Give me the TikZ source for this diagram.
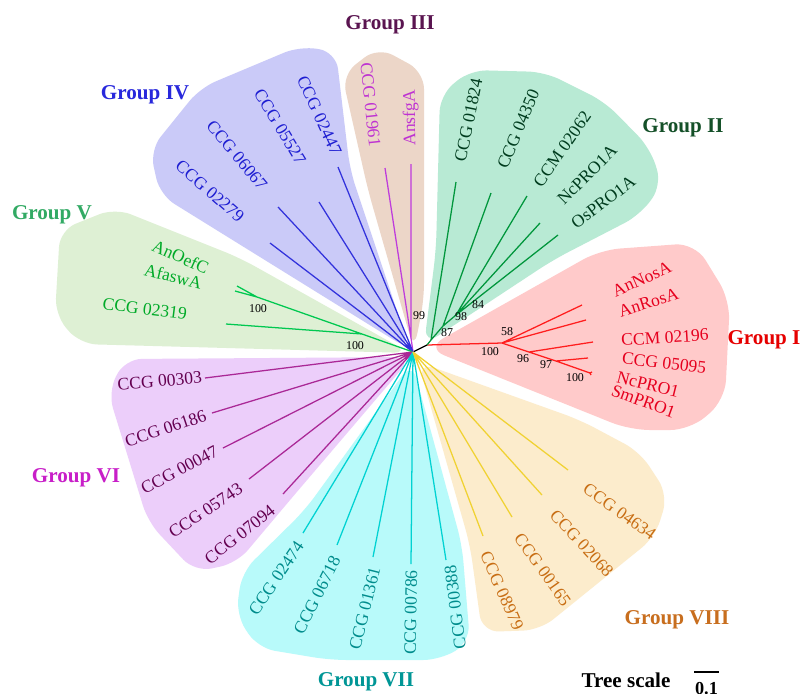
\documentclass[tikz,border=0pt]{standalone}
\usepackage{fontspec}
\setmainfont{Liberation Serif}
\usetikzlibrary{positioning}

% clade fills
\definecolor{fillI}{RGB}{255,202,202}
\definecolor{fillII}{RGB}{184,234,212}
\definecolor{fillIII}{RGB}{236,214,200}
\definecolor{fillIV}{RGB}{202,202,248}
\definecolor{fillV}{RGB}{222,240,212}
\definecolor{fillVI}{RGB}{236,206,250}
\definecolor{fillVII}{RGB}{184,250,250}
\definecolor{fillVIII}{RGB}{252,236,204}
% branches
\definecolor{lineI}{RGB}{255,30,30}
\definecolor{lineII}{RGB}{0,150,60}
\definecolor{lineIII}{RGB}{190,60,220}
\definecolor{lineIV}{RGB}{50,50,220}
\definecolor{lineV}{RGB}{0,200,80}
\definecolor{lineVI}{RGB}{170,40,150}
\definecolor{lineVII}{RGB}{0,210,210}
\definecolor{lineVIII}{RGB}{240,210,50}
% taxon names
\definecolor{textI}{RGB}{230,0,30}
\definecolor{textII}{RGB}{0,60,30}
\definecolor{textIII}{RGB}{190,50,210}
\definecolor{textIV}{RGB}{30,30,210}
\definecolor{textV}{RGB}{0,170,40}
\definecolor{textVI}{RGB}{100,0,80}
\definecolor{textVII}{RGB}{0,140,140}
\definecolor{textVIII}{RGB}{200,110,20}
% group headings
\definecolor{headI}{RGB}{230,0,0}
\definecolor{headII}{RGB}{20,80,40}
\definecolor{headIII}{RGB}{90,20,80}
\definecolor{headIV}{RGB}{40,40,220}
\definecolor{headV}{RGB}{50,170,100}
\definecolor{headVI}{RGB}{200,30,200}
\definecolor{headVII}{RGB}{0,150,150}
\definecolor{headVIII}{RGB}{200,110,30}

\begin{document}
\begin{tikzpicture}[
    x=0.025cm, y=-0.025cm,
    blob/.style={rounded corners=12pt},
    branch/.style={line width=0.9pt},
    taxon/.style={inner sep=0pt, font=\fontsize{12.5}{14}\selectfont},
    boot/.style={inner sep=0pt, font=\fontsize{8.5}{10}\selectfont},
    grouplabel/.style={inner sep=0pt, font=\fontsize{15}{18}\selectfont\bfseries}
]
    \fill[white] (0,0) rectangle (802,693);
    \useasboundingbox (0,0) rectangle (802,693);

    % clade backgrounds
    \fill[fillI, rounded corners=14pt] (426,348) -- (600,250) -- (695,243) -- (730,300) -- (725,400) -- (690,430) -- (630,430) -- cycle;
    \fill[fillII, blob] (424,345) -- (436,250) -- (440,95) -- (470,70) -- (545,72) -- (605,102) -- (650,148) -- (662,185) -- (640,215) -- (553,260) -- cycle;
    \fill[fillIII, blob] (414,350) -- (368,190) -- (342,75) -- (378,47) -- (424,72) -- (424,300) -- cycle;
    \fill[fillIV, blob] (410,350) -- (160,195) -- (150,150) -- (200,88) -- (300,46) -- (336,52) -- (350,170) -- cycle;
    \fill[fillV, blob] (410,353) -- (240,258) -- (115,208) -- (60,230) -- (55,315) -- (80,344) -- cycle;
    \fill[fillVI, blob] (412,357) -- (125,359) -- (108,392) -- (148,522) -- (195,572) -- (237,563) -- (290,500) -- cycle;
    \fill[fillVII, blob] (412,362) -- (305,510) -- (242,572) -- (236,615) -- (258,648) -- (330,660) -- (440,660) -- (470,642) -- (462,545) -- cycle;
    \fill[fillVIII, blob] (418,362) -- (470,545) -- (482,632) -- (540,630) -- (655,537) -- (668,495) -- (640,452) -- (580,420) -- cycle;

    % inner nodes
    \coordinate (root) at (413,352);
    \coordinate (base) at (427,345);
    \coordinate (r1) at (502,343);
    \coordinate (r2) at (529,352);
    \coordinate (r3) at (556,361);
    \coordinate (r4) at (590,373);
    \coordinate (g1) at (431,340);
    \coordinate (g2) at (443,326);
    \coordinate (g3) at (456,315);
    \coordinate (m1) at (411,338);
    \coordinate (v1) at (362,334);
    \coordinate (v2) at (257,297);

    % leaves
    \coordinate (nosA) at (582,305);
    \coordinate (rosA) at (586,320);
    \coordinate (m02196) at (593,342);
    \coordinate (c05095) at (588,358);
    \coordinate (ncPRO1) at (592,372);
    \coordinate (smPRO1) at (591,375);
    \coordinate (c01824) at (456,182);
    \coordinate (c04350) at (491,193);
    \coordinate (m02062) at (527,196);
    \coordinate (ncPRO1A) at (540,223);
    \coordinate (osPRO1A) at (558,235);
    \coordinate (c01961) at (385,168);
    \coordinate (nsfgA) at (411,164);
    \coordinate (c02447) at (338,167);
    \coordinate (c05527) at (319,202);
    \coordinate (c06067) at (278,207);
    \coordinate (c02279) at (270,243);
    \coordinate (oefC) at (237,286);
    \coordinate (faswA) at (235,291);
    \coordinate (c02319) at (226,324);
    \coordinate (c00303) at (205,378);
    \coordinate (c06186) at (212,413);
    \coordinate (c00047) at (223,448);
    \coordinate (c05743) at (249,479);
    \coordinate (c07094) at (283,494);
    \coordinate (c02474) at (303,533);
    \coordinate (c06718) at (337,545);
    \coordinate (c01361) at (373,557);
    \coordinate (c00786) at (411,564);
    \coordinate (c00388) at (446,560);
    \coordinate (c04634) at (568,470);
    \coordinate (c02068) at (542,495);
    \coordinate (c00165) at (512,517);
    \coordinate (c08979) at (483,536);

    % branches
    \draw[branch, black] (root) -- (base);
    \draw[branch, lineI] (base) -- (r1) (r1) -- (nosA) (r1) -- (rosA) (r1) -- (r2) (r2) -- (m02196)
        (r2) -- (r3) (r3) -- (c05095) (r3) -- (r4) (r4) -- (ncPRO1) (r4) -- (smPRO1);
    \draw[branch, lineII] (base) -- (g1) (g1) -- (c01824) (g1) -- (g2) (g2) -- (c04350) (g2) -- (g3)
        (g3) -- (m02062) (g3) -- (ncPRO1A) (g3) -- (osPRO1A);
    \draw[branch, lineIII] (root) -- (m1) (m1) -- (c01961) (m1) -- (nsfgA);
    \draw[branch, lineIV] (root) -- (c02447) (root) -- (c05527) (root) -- (c06067) (root) -- (c02279);
    \draw[branch, lineV] (root) -- (v1) (v1) -- (c02319) (v1) -- (v2) (v2) -- (oefC) (v2) -- (faswA);
    \draw[branch, lineVI] (root) -- (c00303) (root) -- (c06186) (root) -- (c00047) (root) -- (c05743) (root) -- (c07094);
    \draw[branch, lineVII] (root) -- (c02474) (root) -- (c06718) (root) -- (c01361) (root) -- (c00786) (root) -- (c00388);
    \draw[branch, lineVIII] (root) -- (c04634) (root) -- (c02068) (root) -- (c00165) (root) -- (c08979);

    % Group I
    \node[taxon, textI, anchor=west, rotate=24] (t-nosA) at (613,292) {AnNosA};
    \node[taxon, textI, anchor=west, rotate=17.5] (t-rosA) at (619,312) {AnRosA};
    \node[taxon, textI, anchor=west, rotate=3.5] (t-02196) at (621,340) {CCM 02196};
    \node[taxon, textI, anchor=west, rotate=-7] (t-05095) at (622,358) {CCG 05095};
    \node[taxon, textI, anchor=west, rotate=-14] (t-ncPRO1) at (617,377) {NcPRO1};
    \node[taxon, textI, anchor=west, rotate=-20] (t-smPRO1) at (612,390) {SmPRO1};
    % Group II
    \node[taxon, textII, anchor=west, rotate=78.5] (t-01824) at (460,162) {CCG 01824};
    \node[taxon, textII, anchor=west, rotate=67.5] (t-04350) at (502,168) {CCG 04350};
    \node[taxon, textII, anchor=west, rotate=55] (t-02062) at (537,185) {CCM 02062};
    \node[taxon, textII, anchor=west, rotate=45] (t-ncPRO1A) at (560,202) {NcPRO1A};
    \node[taxon, textII, anchor=west, rotate=37] (t-osPRO1A) at (573,225) {OsPRO1A};
    % Group III
    \node[taxon, textIII, anchor=east, rotate=-84] (t-01961) at (375,147) {CCG 01961};
    \node[taxon, textIII, anchor=west, rotate=90.5] (t-nsfgA) at (411,146) {AnsfgA};
    % Group IV
    \node[taxon, textIV, anchor=east, rotate=-65.5] (t-02447) at (337,154) {CCG 02447};
    \node[taxon, textIV, anchor=east, rotate=-59] (t-05527) at (302,163) {CCG 05527};
    \node[taxon, textIV, anchor=east, rotate=-50.5] (t-06067) at (264,188) {CCG 06067};
    \node[taxon, textIV, anchor=east, rotate=-41] (t-02279) at (242,219) {CCG 02279};
    % Group V
    \node[taxon, textV, anchor=east, rotate=-24] (t-oefC) at (208,269) {AnOefC};
    \node[taxon, textV, anchor=east, rotate=-13] (t-faswA) at (202,283) {AfaswA};
    \node[taxon, textV, anchor=east, rotate=-7] (t-02319) at (187,314) {CCG 02319};
    % Group VI
    \node[taxon, textVI, anchor=east, rotate=5.5] (t-00303) at (202,377) {CCG 00303};
    \node[taxon, textVI, anchor=east, rotate=18.5] (t-06186) at (206,415) {CCG 06186};
    \node[taxon, textVI, anchor=east, rotate=28] (t-00047) at (217,450) {CCG 00047};
    \node[taxon, textVI, anchor=east, rotate=33.5] (t-05743) at (241,487) {CCG 05743};
    \node[taxon, textVI, anchor=east, rotate=38.5] (t-07094) at (273,508) {CCG 07094};
    % Group VII
    \node[taxon, textVII, anchor=east, rotate=56] (t-02474) at (300,543) {CCG 02474};
    \node[taxon, textVII, anchor=east, rotate=63.5] (t-06718) at (336,557) {CCG 06718};
    \node[taxon, textVII, anchor=east, rotate=76] (t-01361) at (375,567) {CCG 01361};
    \node[taxon, textVII, anchor=east, rotate=89] (t-00786) at (411.5,570) {CCG 00786};
    \node[taxon, textVII, anchor=east, rotate=97] (t-00388) at (450,565) {CCG 00388};
    % Group VIII
    \node[taxon, textVIII, anchor=west, rotate=-35.5] (t-04634) at (585,487) {CCG 04634};
    \node[taxon, textVIII, anchor=west, rotate=-47.5] (t-02068) at (553,512) {CCG 02068};
    \node[taxon, textVIII, anchor=west, rotate=-54.5] (t-00165) at (518,535) {CCG 00165};
    \node[taxon, textVIII, anchor=west, rotate=-66.5] (t-08979) at (485,552) {CCG 08979};

    % bootstrap values
    \node[boot] (b58) at (507,332) {58};
    \node[boot] (b100a) at (490,352) {100};
    \node[boot] (b96) at (523,359) {96};
    \node[boot] (b97) at (546,365) {97};
    \node[boot] (b100b) at (575,378) {100};
    \node[boot] (b87) at (447,333) {87};
    \node[boot] (b98) at (461,317) {98};
    \node[boot] (b84) at (478,305) {84};
    \node[boot] (b99) at (419,316) {99};
    \node[boot] (b100c) at (258,309) {100};
    \node[boot] (b100d) at (355,346) {100};

    % group headings
    \node[grouplabel, headI] (gI) at (764,340) {Group I};
    \node[grouplabel, headII] (gII) at (683,128) {Group II};
    \node[grouplabel, headIII] (gIII) at (390,25) {Group III};
    \node[grouplabel, headIV] (gIV) at (145,95) {Group IV};
    \node[grouplabel, headV] (gV) at (52,215) {Group V};
    \node[grouplabel, headVI] (gVI) at (76,478) {Group VI};
    \node[grouplabel, headVII] (gVII) at (366,682) {Group VII};
    \node[grouplabel, headVIII] (gVIII) at (677,620) {Group VIII};

    % scale
    \node[grouplabel] (scale) at (626,680) {Tree scale};
    \coordinate (barL) at (694,672);
    \coordinate (barR) at (719,672);
    \coordinate (barM) at (706.5,672);
    \draw[line width=1.8pt] (barL) -- (barR);
    \node[inner sep=0pt, font=\fontsize{13}{15}\selectfont\bfseries, below=7pt of barM] (tick) {0.1};
\end{tikzpicture}
\end{document}
